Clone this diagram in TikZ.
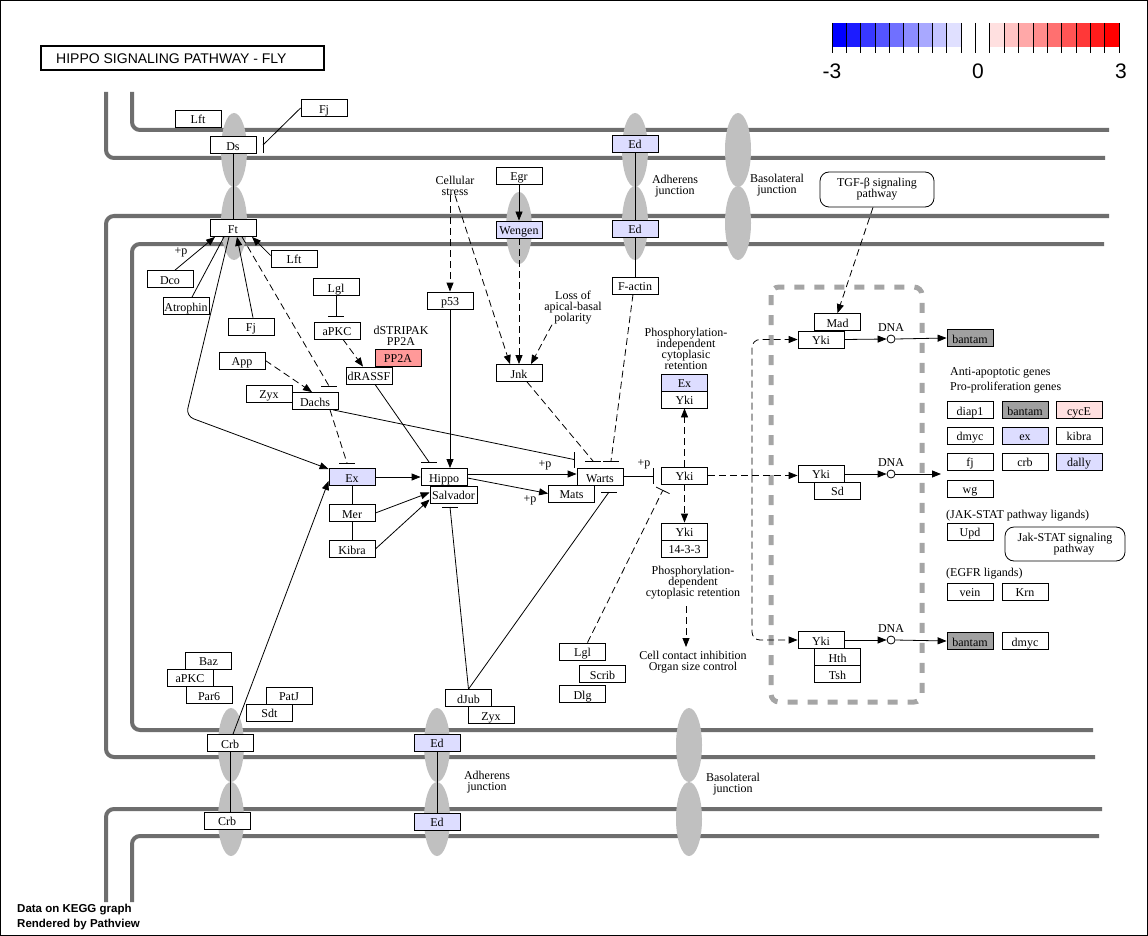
\documentclass[tikz,border=0pt]{standalone}
\usepackage{fontspec}
\setmainfont{Liberation Serif}
\newfontfamily\sansf{Liberation Sans}
\usetikzlibrary{arrows.meta}

\definecolor{memb}{RGB}{110,110,110}
\definecolor{junc}{RGB}{192,192,192}
\definecolor{lav}{RGB}{221,221,255}
\definecolor{salmon}{RGB}{255,153,153}
\definecolor{pinkish}{RGB}{255,224,224}
\definecolor{mir}{RGB}{160,160,160}
\definecolor{nuc}{RGB}{165,165,165}

\tikzset{
  gene/.style={draw, line width=0.8pt, fill=white, minimum width=46pt, minimum height=17pt,
    inner sep=0pt, text height=10.5pt, text depth=0pt, font=\fontsize{12}{11}\selectfont},
  lavgene/.style={gene, fill=lav},
  rgene/.style={gene, fill=salmon},
  mirgene/.style={gene, fill=mir},
  pathbox/.style={draw, line width=0.8pt, rounded corners=9pt, inner sep=0pt, align=center,
    font=\fontsize{12}{11}\selectfont},
  lbl/.style={align=center, inner sep=0pt, font=\fontsize{12}{11}\selectfont},
  lbll/.style={anchor=west, inner sep=0pt, font=\fontsize{12}{11}\selectfont},
  membrane/.style={line width=4pt, draw=memb, rounded corners=8pt},
  con/.style={line width=0.8pt},
  act/.style={con, -{Triangle[length=9pt,width=7pt]}},
  dsh/.style={dash pattern=on 7pt off 4pt},
  dnac/.style={circle, draw, line width=0.8pt, fill=white, minimum size=8pt, inner sep=0pt},
}
% inhibition bars: horizontal / vertical, centred on a named point
\newcommand\barH[1]{\draw[con] ([xshift=-8pt]#1) -- ([xshift=8pt]#1);}
\newcommand\barV[1]{\draw[con] ([yshift=-8pt]#1) -- ([yshift=8pt]#1);}

\begin{document}
\begin{tikzpicture}[x=1pt,y=-1pt]
\useasboundingbox (0,0) rectangle (1148,936);
\fill[white] (0,0) rectangle (1148,936);
\draw[line width=1pt] (0.5,0.5) rectangle (1147.5,935.5);

% ---------- title ----------
\node[draw, line width=2pt, minimum width=283pt, minimum height=24pt, inner sep=0pt] (titlebox) at (182.5,58.5) {};
\node[anchor=west, inner sep=0pt, font=\sansf\fontsize{14}{14}\selectfont] (title) at (56,59) {HIPPO SIGNALING PATHWAY - FLY};

% ---------- colour key ----------
\foreach \i in {0,...,8} {
  \pgfmathtruncatemacro\w{\i*100/9}
  \fill[white!\w!blue] (832+\i*14.35,23) rectangle (832+\i*14.35+14.35,47);
}
\foreach \i in {11,...,19} {
  \pgfmathtruncatemacro\w{(19-\i)*100/9}
  \fill[white!\w!red] (832+\i*14.35,23) rectangle (832+\i*14.35+14.35,47);
}
\foreach \i in {0,...,20} \draw[line width=0.8pt] (832+\i*14.35,23) -- (832+\i*14.35,53);
\node[font=\sansf\fontsize{21}{21}\selectfont, inner sep=0pt] (km) at (832,71) {-3};
\node[font=\sansf\fontsize{21}{21}\selectfont, inner sep=0pt] (k0) at (978,71) {0};
\node[font=\sansf\fontsize{21}{21}\selectfont, inner sep=0pt] (kp) at (1121,71) {3};

% ---------- membranes ----------
\draw[membrane] (106,92) -- (106,158) -- (1105,158);
\draw[membrane] (132,92) -- (132,130) -- (1109,130);
\draw[membrane] (1109,216) -- (106,216) -- (106,757) -- (1095,757);
\draw[membrane] (1104,244) -- (132,244) -- (132,730) -- (1093,730);
\draw[membrane] (1102,809) -- (106,809) -- (106,902);
\draw[membrane] (1099,836) -- (132,836) -- (132,902);

% ---------- junction proteins ----------
\foreach \x/\y in {234/150,234/223,635/150,635/223,738/150,738/223,
                   231/745,231/819,437/745,437/819,689/745,689/819}
  \fill[junc] (\x,\y) ellipse [x radius=13pt, y radius=37pt];
\fill[junc] (519,228) ellipse [x radius=13pt, y radius=36pt];

% ---------- nucleus ----------
\draw[nuc, line width=5pt, dash pattern=on 10pt off 10pt, rounded corners=8pt] (771,287) rectangle (922,702);

% ---------- gene products ----------
\node[gene] (lftA) at (198,118.5) {Lft};
\node[gene] (fjA) at (324,108) {Fj};
\node[gene] (ds) at (233,145) {Ds};
\node[gene] (ft) at (233,228) {Ft};
\node[gene] (lftB) at (294,258.5) {Lft};
\node[gene] (dco) at (170,279) {Dco};
\node[gene] (atro) at (186,306) {Atrophin};
\node[gene] (fjB) at (251,326.5) {Fj};
\node[gene] (lglA) at (336,287) {Lgl};
\node[gene] (apkcA) at (337,330.5) {aPKC};
\node[gene] (app) at (242,360.5) {App};
\node[gene] (zyxA) at (269,393.5) {Zyx};
\node[gene] (dachs) at (315,401) {Dachs};
\node[rgene] (pp2a) at (398,357.5) {PP2A};
\node[gene] (drassf) at (369,375.5) {dRASSF};

\node[gene] (egr) at (519,175.5) {Egr};
\node[lavgene] (wengen) at (519,229.5) {Wengen};
\node[gene] (p53) at (450,300.5) {p53};
\node[gene] (jnk) at (519,373) {Jnk};
\node[lavgene] (edA) at (635,143.5) {Ed};
\node[lavgene] (edB) at (635,228.5) {Ed};
\node[gene] (fact) at (635,285.5) {F-actin};

\node[lavgene] (ex) at (352,477) {Ex};
\node[gene] (mer) at (352,513) {Mer};
\node[gene] (kibra) at (352,549) {Kibra};
\node[gene] (hippo) at (444,477) {Hippo};
\node[gene, minimum width=47pt] (salv) at (453.5,494.5) {Salvador};
\node[gene] (mats) at (571.5,493.5) {Mats};
\node[gene] (warts) at (600,477) {Warts};

\node[gene] (yki) at (684.5,475.5) {Yki};
\node[lavgene] (exY) at (684.5,382.5) {Ex};
\node[gene] (ykiY) at (684.5,399.5) {Yki};
\node[gene] (yki14) at (684.5,531.5) {Yki};
\node[gene] (y1433) at (684.5,548.5) {14-3-3};

\node[gene] (mad) at (837.5,322) {Mad};
\node[gene] (ykiM) at (821,339.5) {Yki};
\node[gene] (ykiS) at (821,473.5) {Yki};
\node[gene] (sd) at (837.5,490.5) {Sd};
\node[gene] (ykiH) at (821,640) {Yki};
\node[gene] (hth) at (837.5,657) {Hth};
\node[gene] (tsh) at (837.5,674) {Tsh};

\node[dnac] (dna1) at (891,339) {};
\node[dnac] (dna2) at (891,474) {};
\node[dnac] (dna3) at (891,640) {};

\node[mirgene] (bantamA) at (970,338) {bantam};
\node[gene] (diap1) at (970,410) {diap1};
\node[mirgene] (bantamC) at (1025,410) {bantam};
\node[gene, fill=pinkish] (cyce) at (1079,410) {cycE};
\node[gene] (dmycA) at (970,435.5) {dmyc};
\node[lavgene] (exg) at (1025,435.5) {ex};
\node[gene] (kibrag) at (1079,435.5) {kibra};
\node[gene] (fjg) at (970,461.5) {fj};
\node[gene] (crbg) at (1025,461.5) {crb};
\node[lavgene] (dally) at (1079,461.5) {dally};
\node[gene] (wg) at (970,488.5) {wg};
\node[gene] (upd) at (970,531.5) {Upd};
\node[gene] (vein) at (970,591.5) {vein};
\node[gene] (krn) at (1025,591.5) {Krn};
\node[mirgene] (bantamB) at (970,641) {bantam};
\node[gene] (dmycB) at (1025,641) {dmyc};

\node[pathbox, minimum width=114pt, minimum height=35pt] (tgf) at (877,189.5) {TGF-β signaling\\pathway};
\node[pathbox, minimum width=120pt, minimum height=34pt] (jak) at (1065,544) {Jak-STAT signaling\\\hspace{1.5em}pathway};

\node[gene] (baz) at (208.5,660.5) {Baz};
\node[gene] (apkcB) at (190,677.5) {aPKC};
\node[gene] (par6) at (209,695) {Par6};
\node[gene] (patj) at (289,695.5) {PatJ};
\node[gene] (sdt) at (269.5,712.5) {Sdt};
\node[gene] (crbA) at (230,743) {Crb};
\node[gene] (crbB) at (227,820.5) {Crb};
\node[lavgene] (edC) at (437,742.5) {Ed};
\node[lavgene] (edD) at (437,821.5) {Ed};
\node[gene] (djub) at (468.5,698) {dJub};
\node[gene] (zyxB) at (491,715) {Zyx};
\node[gene] (lglB) at (582.5,651.5) {Lgl};
\node[gene] (scrib) at (602.5,674) {Scrib};
\node[gene] (dlg) at (582.5,694) {Dlg};

% ---------- text labels ----------
\node[lbl] (pp1) at (181,252) {+p};
\node[lbl] (stripak) at (401,336) {dSTRIPAK\\PP2A};
\node[lbl] (cstress) at (455,185.5) {Cellular\\stress};
\node[lbl] (loss) at (573,308) {Loss of\\apical-basal\\polarity};
\node[lbl] (adhA) at (675,186.5) {Adherens\\junction};
\node[lbl] (basA) at (777,185) {Basolateral\\junction};
\node[lbl] (pind) at (686,348.5) {Phosphorylation-\\independent\\cytoplasic\\retention};
\node[lbl] (pp2) at (545,465) {+p};
\node[lbl] (pp3) at (530,500) {+p};
\node[lbl] (pp4) at (644,464) {+p};
\node[lbl] (pdep) at (693,583) {Phosphorylation-\\dependent\\cytoplasic retention};
\node[lbl] (cci) at (693,662.5) {Cell contact inhibition\\Organ size control};
\node[lbl] (dnaL1) at (891,328) {DNA};
\node[lbl] (dnaL2) at (891,463) {DNA};
\node[lbl] (dnaL3) at (891,629) {DNA};
\node[lbll] (anti) at (950,373) {Anti-apoptotic genes};
\node[lbll] (pro) at (950,388) {Pro-proliferation genes};
\node[lbll] (jakl) at (946,516) {(JAK-STAT pathway ligands)};
\node[lbll] (egfr) at (946,574) {(EGFR ligands)};
\node[lbl] (adhB) at (487,782.5) {Adherens\\junction};
\node[lbl] (basB) at (733,784.5) {Basolateral\\junction};

% ---------- connectors: Fat / Dachsous branch ----------
\coordinate (fjDs) at (263,145);
\draw[con] (fjA.west) -- (fjDs);
\barV{fjDs}
\draw[con] (ds.south) -- (ft.north);
\draw[act] ([xshift=5pt]dco.north) -- ([xshift=-18pt]ft.south);
\draw[con] ([xshift=6pt]atro.north) -- ([xshift=-9pt]ft.south);
\draw[act, rounded corners=8pt] ([xshift=-4pt]ft.south) -- (186,416) -- ([yshift=8pt]ex.west);
\draw[act] ([xshift=2pt]fjB.north) -- ([xshift=4pt]ft.south);
\draw[act] ([yshift=3pt]lftB.west) -- ([xshift=19pt]ft.south);
\coordinate (ftDa) at (329,386);
\draw[con, dsh] ([xshift=9pt]ft.south) -- (ftDa);
\barH{ftDa}

\coordinate (lgAp) at (336,316);
\draw[con] (lglA.south) -- (lgAp);
\barH{lgAp}
\draw[act, dsh] ([xshift=6pt]apkcA.south) -- ([xshift=-6pt]drassf.north);
\draw[act, dsh] (app.east) -- ([xshift=-3pt]dachs.north);
\coordinate (daEx) at (347,463);
\draw[con, dsh] ([xshift=15pt]dachs.south) -- (daEx);
\barH{daEx}
\coordinate (daWa) at (574,459.5);
\draw[con] ([xshift=18pt]dachs.south) -- (daWa);
\barV{daWa}
\coordinate (drHi) at (429,462);
\draw[con] ([xshift=6pt]drassf.south) -- (drHi);
\barH{drHi}

% ---------- Hippo core ----------
\draw[act] (p53.south) -- ([xshift=6pt]hippo.north);
\draw[act] (ex.east) -- (hippo.west);
\draw[con] (ex.south) -- (mer.north);
\draw[con] (mer.south) -- (kibra.north);
\draw[act] (mer.east) -- ([yshift=2pt]salv.west);
\draw[act] (kibra.east) -- ([yshift=-5pt]salv.west);
\draw[act] ([yshift=3pt]hippo.east) -- ([yshift=3pt]warts.west);
\draw[act] ([yshift=-1pt]hippo.east) -- (mats.west);

\draw[act, dsh] ([xshift=-5pt]cstress.south) -- (p53.north);
\draw[act, dsh] (cstress.south) -- ([xshift=-9pt]jnk.north);
\draw[act] (egr.south) -- (wengen.north);
\draw[act, dsh] (wengen.south) -- (jnk.north);
\draw[act, dsh] ([xshift=-21pt]loss.south) -- ([xshift=12pt]jnk.north);
\draw[con] (edA.south) -- (edB.north);
\draw[con] (edB.south) -- (fact.north);
\coordinate (jnWa) at (593,461);
\draw[con, dsh] ([xshift=8pt]jnk.south) -- (jnWa);
\barH{jnWa}
\coordinate (faWa) at (611,461);
\draw[con, dsh] ([xshift=-2pt]fact.south) -- (faWa);
\barH{faWa}
\coordinate (waYk) at (653,476);
\draw[con] (warts.east |- waYk) -- (waYk);
\barV{waYk}
\coordinate (djSa) at (450,507);
\draw[con] (djub.north) -- (djSa);
\barH{djSa}
\coordinate (djWa) at (609,492);
\draw[con] (djub.north) -- (djWa);
\barH{djWa}
\draw[con, dsh, -{Bar[width=15pt]}] ([xshift=5pt]lglB.north) -- (663,490);
\draw[act] ([xshift=3pt]crbA.north) -- ([yshift=-4pt]ex.west);
\draw[con] (crbA.south) -- (crbA.south |- crbB.north);
\draw[con] (edC.south) -- (edD.north);

% ---------- Yorkie ----------
\draw[act, dsh] (yki.north) -- (ykiY.south);
\draw[act, dsh] (yki.south) -- (yki14.north);
\coordinate (pr1) at (686,606);
\coordinate (pr2) at (686,647);
\draw[act, dsh] (pr1) -- (pr2);
\draw[act, dsh] (yki.east) -- (yki.east -| ykiS.west);
\coordinate (br) at (752,475.5);
\draw[act, dsh, rounded corners=8pt] (br) |- (ykiM.west);
\draw[act, dsh, rounded corners=8pt] (br) |- (ykiH.west);
\draw[act, dsh] ([xshift=-4pt]tgf.south) -- (mad.north);
\draw[act] (ykiM.east) -- (dna1.west);
\draw[act] (dna1.east) -- (bantamA.west);
\draw[act] (ykiS.east |- dna2) -- (dna2.west);
\coordinate (geneT) at (941,474);
\draw[act] (dna2.east) -- (geneT);
\draw[act] (ykiH.east) -- (dna3.west);
\draw[act] (dna3.east) -- (bantamB.west);

% ---------- footer ----------
\node[anchor=base west, inner sep=0pt, font=\sansf\bfseries\fontsize{11.5}{12}\selectfont] (foot1) at (17,912) {Data on KEGG graph};
\node[anchor=base west, inner sep=0pt, font=\sansf\bfseries\fontsize{11.5}{12}\selectfont] (foot2) at (17,927) {Rendered by Pathview};
\end{tikzpicture}
\end{document}
